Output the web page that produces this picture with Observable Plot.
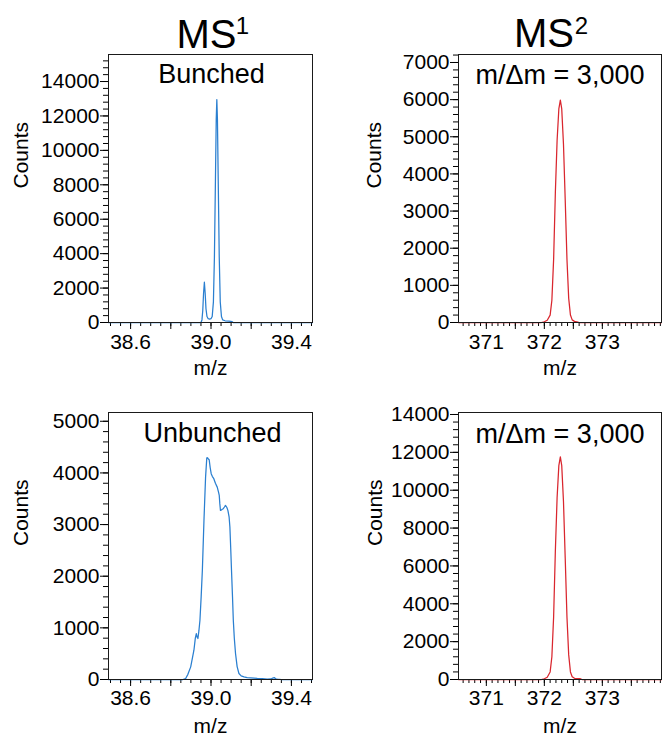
<!DOCTYPE html>
<html>
<head>
<meta charset="utf-8">
<script src="https://cdn.jsdelivr.net/npm/d3@7"></script>
<script src="https://cdn.jsdelivr.net/npm/@observablehq/plot@0.6"></script>
<style>
  body { margin: 0; background: #fff; }
  #root { position: relative; width: 662px; height: 735px; overflow: hidden; background: #fff; }
  .panel { position: absolute; }
</style>
</head>
<body>
<div id="root"></div>
<script>
// ---------- data ----------
const bunchedMz = [38.49, 38.95, 38.955, 38.959, 38.963, 38.967, 38.971, 38.975, 38.980, 38.986, 38.993, 39.000, 39.006, 39.012, 39.017, 39.022, 39.026, 39.029, 39.032, 39.036, 39.041, 39.046, 39.052, 39.058, 39.070, 39.090, 39.105, 39.110, 39.505];
const bunchedCounts = [0, 0, 150, 700, 1700, 2340, 1700, 800, 350, 220, 200, 220, 350, 1200, 3800, 8200, 11800, 12950, 11800, 8200, 3800, 1200, 350, 150, 100, 80, 50, 0, 0];

const unbunchedMz = [38.49, 38.86, 38.874, 38.885, 38.899, 38.915, 38.922, 38.927, 38.931, 38.935, 38.940, 38.945, 38.951, 38.957, 38.965, 38.973, 38.979, 38.982, 38.987, 38.991, 38.996, 39.001, 39.007, 39.014, 39.022, 39.031, 39.038, 39.041, 39.044, 39.047, 39.054, 39.061, 39.067, 39.072, 39.079, 39.084, 39.090, 39.094, 39.098, 39.102, 39.107, 39.111, 39.116, 39.122, 39.130, 39.139, 39.150, 39.164, 39.180, 39.197, 39.215, 39.230, 39.255, 39.280, 39.297, 39.310, 39.316, 39.322, 39.330, 39.350, 39.505];
const unbunchedCounts = [0, 0, 20, 100, 245, 567, 800, 890, 820, 793, 950, 1147, 1600, 2114, 3081, 3919, 4290, 4294, 4270, 4255, 4100, 3985, 3930, 3888, 3800, 3725, 3620, 3565, 3400, 3275, 3290, 3307, 3340, 3371, 3330, 3275, 3150, 2952, 2550, 2114, 1600, 1147, 800, 503, 250, 116, 70, 50, 35, 30, 25, 20, 15, 8, 10, 30, 38, 10, 5, 0, 0];

const ms2TopMz = [370.52, 371.95, 372.00, 372.05, 372.10, 372.13, 372.16, 372.19, 372.22, 372.25, 372.276, 372.30, 372.33, 372.36, 372.39, 372.42, 372.45, 372.48, 372.52, 372.56, 372.60, 374.02];
const ms2TopCounts = [0, 0, 20, 60, 200, 600, 1700, 3500, 4900, 5750, 5985, 5750, 4800, 3300, 1700, 650, 200, 70, 30, 20, 0, 0];

const ms2BottomMz = [370.52, 371.95, 372.00, 372.05, 372.10, 372.13, 372.16, 372.19, 372.22, 372.25, 372.276, 372.30, 372.33, 372.36, 372.39, 372.42, 372.45, 372.48, 372.52, 372.56, 372.62, 372.65, 374.02];
const ms2BottomCounts = [0, 0, 40, 120, 400, 1200, 3300, 6800, 9600, 11300, 11760, 11300, 9400, 6400, 3300, 1300, 400, 150, 60, 50, 40, 0, 0];

// tick labels
const ms1XLabels = [38.6, 39.0, 39.4];
const ms1XMid = [38.8, 39.2];
const ms2XLabels = [371, 372, 373];
const ms2XMid = [371.5, 372.5, 373.5];
const yLabelsTL = [0, 2000, 4000, 6000, 8000, 10000, 12000, 14000];
const yLabelsBL = [0, 1000, 2000, 3000, 4000, 5000];
const yLabelsTR = [0, 1000, 2000, 3000, 4000, 5000, 6000, 7000];
const yLabelsBR = [0, 2000, 4000, 6000, 8000, 10000, 12000, 14000];

const panelTexts = ["Bunched", "Unbunched", "m/Δm = 3,000", "m/Δm = 3,000"];

const BLUE = "#2a7fd0";
const RED = "#d9262e";
const FONT = "'Liberation Sans', Arial, sans-serif";

const steps = (a, b, s, dec) => d3.range(Math.round((b - a) / s) + 1).map(i => +(a + i * s).toFixed(dec));

function panel(o) {
  const data = o.mz.map((m, i) => ({mz: m, counts: o.counts[i]}));
  const inX = v => v >= o.xDomain[0] && v <= o.xDomain[1];
  const inY = v => v >= o.yDomain[0] && v <= o.yDomain[1];
  const marks = [
    Plot.axisY({ticks: o.yMinor.filter(inY), tickSize: 5, tickFormat: () => "", label: null}),
    Plot.axisY({ticks: o.yMajor, tickSize: 8, tickPadding: 1, fontSize: 21, tickFormat: d => String(d), label: null}),
    Plot.axisX({ticks: o.xMinor.filter(inX), tickSize: 4, tickFormat: () => "", label: null}),
    Plot.axisX({ticks: o.xMid, tickSize: 7, tickFormat: () => "", label: null}),
    Plot.axisX({ticks: o.xMajor, tickSize: 7, tickPadding: o.xPad, fontSize: 21, tickFormat: o.xFormat, label: null}),
    Plot.line(data, {x: "mz", y: "counts", stroke: o.color, strokeWidth: 1.25}),
    Plot.frame({stroke: "#1a1a1a", strokeWidth: 1}),
    Plot.text([o.label], {text: d => d, frameAnchor: "top", lineAnchor: "bottom", dy: o.labelDy, dx: o.labelDx, fontSize: 27}),
    Plot.text(["Counts"], {text: d => d, frameAnchor: "left", rotate: -90, dx: o.countsDx, fontSize: 21}),
    Plot.text(["m/z"], {text: d => d, frameAnchor: "bottom", lineAnchor: "bottom", dy: o.mzDy, fontSize: 21})
  ];
  if (o.title) {
    marks.push(Plot.text([o.title], {text: d => d, frameAnchor: "top", lineAnchor: "bottom", dy: o.titleDy, dx: o.titleDx, fontSize: 40}));
    marks.push(Plot.text([o.sup], {text: d => d, frameAnchor: "top", lineAnchor: "bottom", dy: o.supDy, dx: o.supDx, fontSize: 24}));
  }
  const chart = Plot.plot({
    width: o.width, height: o.height,
    marginLeft: o.mL, marginRight: o.mR, marginTop: o.mT, marginBottom: o.mB,
    style: {fontFamily: FONT, fontSize: "21px", color: "#000", background: "none", overflow: "visible"},
    x: {domain: o.xDomain, label: null},
    y: {domain: o.yDomain, label: null},
    marks
  });
  const div = document.createElement("div");
  div.className = "panel";
  div.style.left = o.left + "px";
  div.style.top = o.top + "px";
  div.style.width = o.width + "px";
  div.appendChild(chart);
  document.getElementById("root").appendChild(div);
}

const ms1Minor = steps(38.5, 39.5, 0.05, 2);
const ms2Minor = steps(370.6, 374.0, 0.1, 1);

panel({
  left: 0, top: 0, width: 331, height: 380, mL: 108, mR: 19, mT: 54, mB: 58,
  xDomain: [38.49, 39.505], yDomain: [0, 15570],
  xMajor: ms1XLabels, xMid: ms1XMid, xMinor: ms1Minor, xFormat: d => d.toFixed(1), xPad: 5,
  yMajor: yLabelsTL, yMinor: steps(0, 15200, 400, 0),
  mz: bunchedMz, counts: bunchedCounts, color: BLUE,
  label: panelTexts[0], labelDy: 28, labelDx: 1, countsDx: -87, mzDy: 52,
  title: "MS", sup: "1", titleDy: -7, titleDx: -4, supDy: -21, supDx: 32
});
panel({
  left: 0, top: 370, width: 331, height: 365, mL: 108, mR: 19, mT: 42, mB: 56,
  xDomain: [38.49, 39.505], yDomain: [0, 5170],
  xMajor: ms1XLabels, xMid: ms1XMid, xMinor: ms1Minor, xFormat: d => d.toFixed(1), xPad: 4,
  yMajor: yLabelsBL, yMinor: steps(0, 5000, 200, 0),
  mz: unbunchedMz, counts: unbunchedCounts, color: BLUE,
  label: panelTexts[1], labelDy: 29, labelDx: 2, countsDx: -87, mzDy: 53
});
panel({
  left: 331, top: 0, width: 331, height: 380, mL: 127, mR: 1, mT: 54, mB: 58,
  xDomain: [370.52, 374.02], yDomain: [0, 7215],
  xMajor: ms2XLabels, xMid: ms2XMid, xMinor: ms2Minor, xFormat: d => String(d), xPad: 5,
  yMajor: yLabelsTR, yMinor: steps(0, 7200, 200, 0),
  mz: ms2TopMz, counts: ms2TopCounts, color: RED,
  label: panelTexts[2], labelDy: 29, labelDx: 0, countsDx: -84, mzDy: 52,
  title: "MS", sup: "2", titleDy: -7.5, titleDx: -16, supDy: -21, supDx: 21.5
});
panel({
  left: 331, top: 370, width: 331, height: 365, mL: 127, mR: 1, mT: 42, mB: 56,
  xDomain: [370.52, 374.02], yDomain: [0, 14105],
  xMajor: ms2XLabels, xMid: ms2XMid, xMinor: ms2Minor, xFormat: d => String(d), xPad: 4,
  yMajor: yLabelsBR, yMinor: steps(0, 14000, 400, 0),
  mz: ms2BottomMz, counts: ms2BottomCounts, color: RED,
  label: panelTexts[3], labelDy: 30, labelDx: 0, countsDx: -83, mzDy: 53
});
</script>
</body>
</html>
